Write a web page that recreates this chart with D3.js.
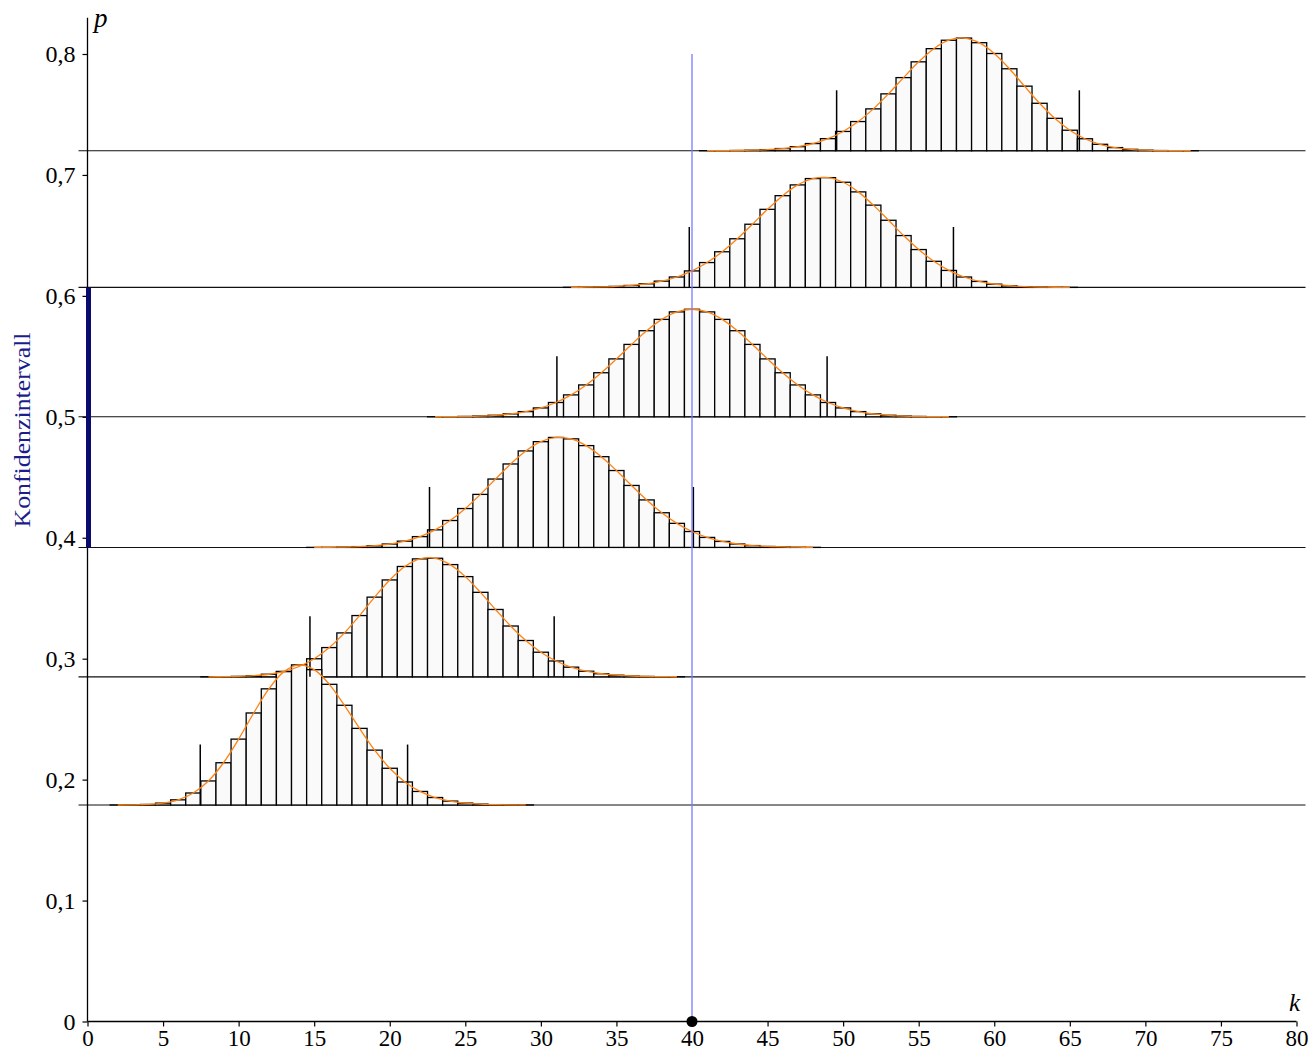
<!DOCTYPE html>
<html><head><meta charset="utf-8">
<script src="https://cdn.jsdelivr.net/npm/d3@7"></script>
<style>body{margin:0;background:#fff}svg{display:block}</style>
</head><body>
<svg id="chart" width="1311" height="1050"></svg>
<script>
// ---------- data ----------
const xTicks = [0,5,10,15,20,25,30,35,40,45,50,55,60,65,70,75,80];
const yTicks = [0,0.1,0.2,0.3,0.4,0.5,0.6,0.7,0.8];
const yTickLabels = ["0","0,1","0,2","0,3","0,4","0,5","0,6","0,7","0,8"];
const observedK = 40;
const ciLow = 0.392, ciHigh = 0.607;
const markerHeight = 0.05;

const baselineP = [0.179, 0.285, 0.392, 0.5, 0.607, 0.72];
const firstK    = [2, 8, 15, 23, 32, 41];
const markerLow  = [7.46, 14.72, 22.63, 31.06, 39.82, 49.57];
const markerHigh = [21.18, 30.88, 40.09, 48.94, 57.30, 65.63];

const probsA = [0.0000194,0.000111,0.000468,0.001561,0.004283,0.009939,0.01991,0.03496,0.05449,0.07611,
  0.09607,0.11031,0.11588,0.11192,0.09981,0.08248,0.06337,0.04539,0.03039,0.01906,
  0.01122,0.006211,0.003238,0.001592,0.000739,0.000325,0.000135,0.0000531];
const probsB = [0.0000408,0.000130,0.000369,0.000935,0.002142,0.004467,0.008521,0.014945,0.024200,0.036314,
  0.050662,0.065896,0.080113,0.091237,0.097530,0.098034,0.092807,0.082864,0.069871,0.055701,
  0.042026,0.030037,0.020354,0.013086,0.007987,0.004631,0.002552,0.001337,0.000666,0.000316,
  0.000142,0.0000611];
const probsC = [0.0000473,0.000124,0.000301,0.000679,0.001428,0.002808,0.005172,0.008943,0.014540,0.022264,
  0.032154,0.043854,0.056549,0.069012,0.079783,0.087446,0.090935,0.089776,0.084192,0.075036,
  0.063583,0.051243,0.039289,0.028664,0.019902,0.013152,0.008273,0.004953,0.002822,0.001530,
  0.000789,0.000387,0.000181,0.0000800];
const probsD = [0.0000566,0.000134,0.000301,0.000636,0.001272,0.002408,0.004317,0.00734,0.01184,0.01812,
  0.02636,0.03644,0.04789,0.05987,0.07119,0.08056,0.08676,0.08893,0.08676,0.08056,
  0.07119,0.05987,0.04789,0.03644,0.02636,0.01812,0.01184,0.00734,0.004317,0.002408,
  0.001272,0.000636,0.000301,0.000134,0.0000566];
const probsE = [0.0000857,0.000193,0.000412,0.000835,0.001613,0.002963,0.005178,0.008613,0.013636,0.020547,
  0.029469,0.040223,0.052242,0.064551,0.075859,0.084759,0.090002,0.090782,0.086934,0.078984,
  0.068035,0.055515,0.042873,0.031303,0.021584,0.014037,0.008597,0.004951,0.002677,0.001356,
  0.000642,0.000283,0.000116,0.0000442];
const probsF = [0.0000384,0.0000916,0.000208,0.000450,0.000926,0.001813,0.003373,0.005963,0.010013,0.015963,
  0.024147,0.034628,0.047043,0.060483,0.073522,0.084401,0.091382,0.093182,0.089347,0.080413,
  0.067795,0.053424,0.039250,0.026809,0.016970,0.009918,0.005328,0.002620,0.001171,0.000474,
  0.000171,0.0000552,0.0000155];
const allProbs = [probsA, probsB, probsC, probsD, probsE, probsF];

// ---------- drawing ----------
const svg = d3.select("#chart");
const FONT = "Liberation Serif, Times New Roman, serif";
const x = d3.scaleLinear().domain([0, 80]).range([87.5, 1296.5]);
const y = d3.scaleLinear().domain([0, 0.8]).range([1021.5, 54]);
const yAxisTop = 0.83;

const dists = baselineP.map((p, i) => ({
  p, lo: markerLow[i], hi: markerHigh[i],
  pts: allProbs[i].map((v, j) => ({k: firstK[i] + j, v}))
}));

// baselines
svg.append("g").selectAll("line").data(baselineP).join("line")
  .attr("x1", x(0) - 9).attr("x2", x(80) + 9)
  .attr("y1", d => y(d)).attr("y2", d => y(d))
  .attr("stroke", "#111").attr("stroke-width", 1.1);

// bars (top distribution first so lower ones overlay)
const barsG = svg.append("g");
dists.slice().reverse().forEach(d => {
  barsG.append("g").selectAll("rect").data(d.pts).join("rect")
    .attr("x", e => x(e.k - 0.5))
    .attr("width", e => x(e.k + 0.5) - x(e.k - 0.5))
    .attr("y", e => y(d.p + e.v))
    .attr("height", e => y(d.p) - y(d.p + e.v))
    .attr("fill", "#fafafa")
    .attr("stroke", "#000").attr("stroke-width", 1.3);
});

// 2-sigma markers
const mk = svg.append("g");
dists.forEach(d => {
  [d.lo, d.hi].forEach(k => {
    mk.append("line")
      .attr("x1", x(k)).attr("x2", x(k))
      .attr("y1", y(d.p)).attr("y2", y(d.p + markerHeight))
      .attr("stroke", "#000").attr("stroke-width", 1.5);
  });
});

// curves
const line = d3.line().x(e => x(e.k)).y(e => y(e.v)).curve(d3.curveCatmullRom.alpha(0.5));
dists.forEach(d => {
  svg.append("path")
    .datum(d.pts.map(e => ({k: e.k, v: d.p + e.v})))
    .attr("d", line)
    .attr("fill", "none").attr("stroke", "#ff8210").attr("stroke-width", 1.3);
});

// observed k line
svg.append("line")
  .attr("x1", x(observedK)).attr("x2", x(observedK))
  .attr("y1", y(0)).attr("y2", y(0.8))
  .attr("stroke", "#7a7aff").attr("stroke-width", 1.3);

// axes
const xAxis = d3.axisBottom(x).tickValues(xTicks).tickSize(5).tickSizeOuter(0).tickPadding(3)
  .tickFormat(d => String(d));
const gx = svg.append("g").attr("transform", `translate(0,${y(0)})`).call(xAxis);
const yAxis = d3.axisLeft(y).tickValues(yTicks).tickSize(5).tickSizeOuter(0).tickPadding(7)
  .tickFormat((d, i) => yTickLabels[i]);
const gy = svg.append("g").attr("transform", `translate(${x(0)},0)`).call(yAxis);
[gx, gy].forEach(g => {
  g.attr("font-family", FONT).attr("font-size", 24);
  g.select(".domain").remove();
  g.selectAll(".tick line").attr("stroke", "#000").attr("stroke-width", 1.2);
  g.selectAll(".tick text").style("font-family", FONT).attr("fill", "#000");
});
gx.attr("font-size", 23);
svg.append("line").attr("x1", x(0)).attr("x2", x(80)).attr("y1", y(0)).attr("y2", y(0))
  .attr("stroke", "#000").attr("stroke-width", 1.3);
svg.append("line").attr("x1", x(0)).attr("x2", x(0)).attr("y1", y(0)).attr("y2", y(yAxisTop))
  .attr("stroke", "#000").attr("stroke-width", 1.3);

// confidence interval bar
svg.append("line")
  .attr("x1", x(0) + 1).attr("x2", x(0) + 1)
  .attr("y1", y(ciLow)).attr("y2", y(ciHigh))
  .attr("stroke", "#0b0b6e").attr("stroke-width", 5);

// observed point
svg.append("circle").attr("cx", x(observedK)).attr("cy", y(0)).attr("r", 5.5).attr("fill", "#000");

// labels
svg.append("text").attr("x", 94).attr("y", 27).text("p")
  .style("font-family", FONT).attr("font-style", "italic").attr("font-size", 27);
svg.append("text").attr("x", 1289).attr("y", 1011).text("k")
  .style("font-family", FONT).attr("font-style", "italic").attr("font-size", 25);
svg.append("text")
  .attr("transform", `translate(30,430) rotate(-90)`)
  .attr("text-anchor", "middle")
  .style("font-family", FONT).attr("font-size", 24).attr("fill", "#1c1c8a")
  .attr("textLength", 195).attr("lengthAdjust", "spacingAndGlyphs")
  .text("Konfidenzintervall");
</script>
</body></html>
